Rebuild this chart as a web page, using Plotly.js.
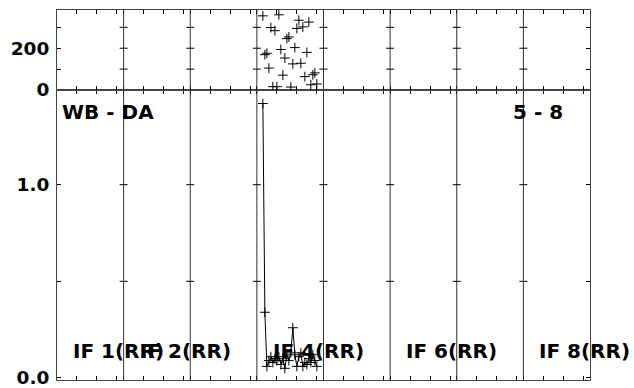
<!DOCTYPE html>
<html>
<head>
<meta charset="utf-8">
<script src="https://cdn.plot.ly/plotly-3.0.1.min.js"></script>
<style>html,body{margin:0;padding:0;background:#fff;}#chart{width:634px;height:388px;}</style>
</head>
<body>
<div id="chart"></div>
<script>
// ---- data ----
const ifCount = 8;
const ifLabelIndex = [1, 2, 4, 6, 8];
const ifLabels = ['IF 1(RR)', 'IF 2(RR)', 'IF 4(RR)', 'IF 6(RR)', 'IF 8(RR)'];
const baselineLabel = 'WB - DA';
const timeLabel = '5 - 8';
const dataIF = 4;
const channels = [3, 4, 5, 6, 7, 8, 9, 10, 11, 12, 13, 14, 15, 16, 17, 18, 19, 20, 21, 22, 23, 24, 25, 26, 27, 28, 29, 30];
const phase = [355, 169, 176, 105, 299, 16, 284, 16, 360, 194, 71, 153, 246, 254, 14, 125, 203, 295, 334, 128, 302, 64, 180, 325, 25, 73, 82, 29];
const amp = [1.42, 0.34, 0.06, 0.09, 0.11, 0.08, 0.10, 0.09, 0.11, 0.07, 0.10, 0.05, 0.12, 0.09, 0.13, 0.26, 0.12, 0.06, 0.11, 0.13, 0.06, 0.08, 0.07, 0.10, 0.08, 0.12, 0.09, 0.06];
const chanTicks = [0, 10, 20, 30];
const phaseTicks = [0, 100, 200, 300];
const phaseTickText = ['0', '', '200', ''];
const ampTicks = [0, 0.5, 1.0];
const ampTickText = ['0.0', '', '1.0'];

// ---- layout helpers ----
const IFW = 100 / 3;           // channel slots per IF
const split = 290 / 370;       // panel boundary (paper)
const xs = channels.map(c => (dataIF - 1) * IFW + c);

const xTickVals = [];
for (let k = 0; k < ifCount; k++) chanTicks.forEach(t => xTickVals.push(k * IFW + t));
xTickVals.push(ifCount * IFW);

const lineCol = '#444';
const tickFont = {family: 'DejaVu Sans', size: 18.5, color: '#000', weight: 'bold'};
const annFont = {family: 'DejaVu Sans', size: 20, color: '#000', weight: 'bold'};

const xCommon = {
  range: [0, ifCount * IFW], tickmode: 'array', tickvals: xTickVals,
  ticks: 'inside', ticklen: 4, tickcolor: '#000', tickwidth: 1,
  showticklabels: false, showline: true, mirror: 'ticks', linecolor: lineCol, linewidth: 1,
  showgrid: false, zeroline: false, fixedrange: true
};
const yCommon = {
  ticks: 'inside', ticklen: 4, tickcolor: '#000', tickwidth: 1, tickmode: 'array',
  showline: true, mirror: 'ticks', linecolor: lineCol, linewidth: 1,
  showgrid: false, zeroline: false, tickfont: tickFont, ticklabelstandoff: 3,
  ticklabeloverflow: 'allow'
};

const shapes = [];
for (let k = 1; k < ifCount; k++) {
  const xd = k * IFW;
  shapes.push({type: 'line', xref: 'x', yref: 'paper', x0: xd, x1: xd, y0: 0, y1: 1,
               line: {color: '#333', width: 1}});
  phaseTicks.slice(1).forEach(v => shapes.push({type: 'line', xref: 'x', yref: 'y2', xsizemode: 'pixel',
    xanchor: xd, x0: -4, x1: 4, y0: v, y1: v, line: {color: '#000', width: 1}}));
  ampTicks.slice(1).forEach(v => shapes.push({type: 'line', xref: 'x', yref: 'y', xsizemode: 'pixel',
    xanchor: xd, x0: -4, x1: 4, y0: v, y1: v, line: {color: '#000', width: 1}}));
}

const annotations = ifLabels.map((t, i) => ({
  text: t, xref: 'x', yref: 'paper', x: (ifLabelIndex[i] - 1) * IFW + 7, y: 29 / 370,
  xanchor: 'left', yanchor: 'middle', showarrow: false, font: annFont
}));
annotations.push({text: baselineLabel, xref: 'paper', yref: 'paper', x: 0.006, y: 268 / 370,
  xanchor: 'left', yanchor: 'middle', showarrow: false, font: annFont});
annotations.push({text: timeLabel, xref: 'paper', yref: 'paper', x: 0.953, y: 268 / 370,
  xanchor: 'right', yanchor: 'middle', showarrow: false, font: annFont});

const marker = {symbol: 'cross-thin-open', size: 7, color: '#000', line: {color: '#000', width: 1}};

const traces = [
  {x: xs, y: amp, xaxis: 'x', yaxis: 'y', type: 'scatter', mode: 'lines+markers',
   line: {color: '#000', width: 1}, marker: marker, showlegend: false, hoverinfo: 'skip'},
  {x: xs, y: phase, xaxis: 'x2', yaxis: 'y2', type: 'scatter', mode: 'markers',
   marker: marker, showlegend: false, hoverinfo: 'skip'}
];

const layout = {
  width: 634, height: 388,
  margin: {l: 57, r: 44, t: 10, b: 8},
  paper_bgcolor: '#fff', plot_bgcolor: '#fff',
  showlegend: false,
  xaxis: Object.assign({}, xCommon, {anchor: 'y', domain: [0, 1]}),
  xaxis2: Object.assign({}, xCommon, {anchor: 'y2', domain: [0, 1], matches: 'x'}),
  yaxis: Object.assign({}, yCommon, {anchor: 'x', domain: [0, split], range: [-0.0105, 1.49],
    tickvals: ampTicks, ticktext: ampTickText}),
  yaxis2: Object.assign({}, yCommon, {anchor: 'x2', domain: [split, 1], range: [0, 383],
    tickvals: phaseTicks, ticktext: phaseTickText}),
  shapes: shapes,
  annotations: annotations
};

Plotly.newPlot('chart', traces, layout, {staticPlot: true, displayModeBar: false});
</script>
</body>
</html>
